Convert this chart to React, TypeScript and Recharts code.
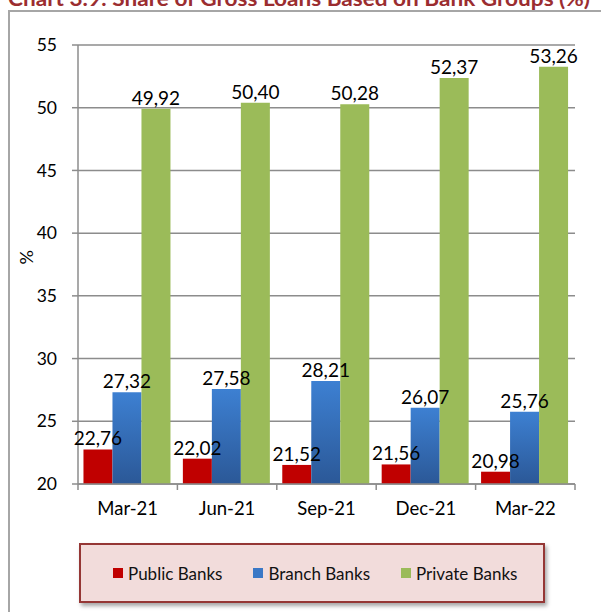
import React from 'react';
import { BarChart, Bar, XAxis, YAxis, CartesianGrid, LabelList, Legend, Label } from 'recharts';

const categories = ['Mar-21', 'Jun-21', 'Sep-21', 'Dec-21', 'Mar-22'];
const publicBanks = [22.76, 22.02, 21.52, 21.56, 20.98];
const branchBanks = [27.32, 27.58, 28.21, 26.07, 25.76];
const privateBanks = [49.92, 50.4, 50.28, 52.37, 53.26];
const yTicks = [20, 25, 30, 35, 40, 45, 50, 55];
const seriesNames = ['Public Banks', 'Branch Banks', 'Private Banks'];

const data = categories.map((c, i) => ({
  name: c,
  publicBanks: publicBanks[i],
  branchBanks: branchBanks[i],
  privateBanks: privateBanks[i],
}));

const FONT = 'Lato, "Open Sans", sans-serif';
const GRID = '#8C8C8C';
const TICK_SIZE = 6;
const TICK_MARGIN = 12;
const COLORS: Record<string, string> = {
  'Public Banks': '#C00000',
  'Branch Banks': '#3B78C6',
  'Private Banks': '#9BBB59',
};

const fmt = (v: any) => Number(v).toFixed(2).replace('.', ',');

const XTick = (props: any) => {
  const { x, y, payload, index, visibleTicksCount } = props;
  const half = payload && payload.offset ? payload.offset : 49.7;
  const axisY = y - TICK_SIZE - TICK_MARGIN;
  return (
    <g>
      <line x1={x - half} x2={x - half} y1={axisY} y2={axisY + TICK_SIZE} stroke={GRID} strokeWidth={1.5} />
      {index === visibleTicksCount - 1 && (
        <line x1={x + half} x2={x + half} y1={axisY} y2={axisY + TICK_SIZE} stroke={GRID} strokeWidth={1.5} />
      )}
      <text x={x} y={y} dy="0.71em" textAnchor="middle" fontSize={18.5} fontFamily={FONT} fill="#000">
        {payload.value}
      </text>
    </g>
  );
};

const renderLegend = (props: any) => {
  const payload = [...(props.payload || [])].sort(
    (a: any, b: any) => seriesNames.indexOf(a.value) - seriesNames.indexOf(b.value)
  );
  return (
    <div
      style={{
        width: 466,
        height: 60,
        boxSizing: 'border-box',
        background: '#F2DCDB',
        border: '2px solid #953735',
        boxShadow: '2px 3px 4px rgba(0,0,0,0.35)',
        display: 'flex',
        flexWrap: 'nowrap',
        alignItems: 'center',
        paddingLeft: 32,
        fontFamily: FONT,
        fontSize: 17,
        color: '#111',
        whiteSpace: 'nowrap',
      }}
    >
      {payload.map((p: any, i: number) => (
        <div key={i} style={{ display: 'flex', flexShrink: 0, alignItems: 'center', marginRight: 31, whiteSpace: 'nowrap' }}>
          <span style={{ display: 'inline-block', width: 10, height: 10, background: COLORS[p.value], marginRight: 5 }} />
          <span>{p.value}</span>
        </div>
      ))}
    </div>
  );
};

export default function App() {
  return (
    <div style={{ position: 'fixed', left: 0, top: 0, width: 601, height: 612, overflow: 'hidden', background: '#fff' }}>
      <div
        style={{
          position: 'absolute',
          left: 8,
          top: 10,
          width: 640,
          height: 640,
          border: '2px solid #A6A6A6',
          boxSizing: 'border-box',
        }}
      />
      <svg style={{ position: 'absolute', left: 0, top: 0 }} width={601} height={20}>
        <text x={8} y={6} textLength={582} lengthAdjust="spacingAndGlyphs" fontFamily={FONT} fontWeight="bold" fontSize={20} fill="#9B2D30">
          Chart 3.9: Share of Gross Loans Based on Bank Groups (%)
        </text>
      </svg>
      <div style={{ position: 'absolute', left: 0, top: 0 }}>
        <BarChart
          width={601}
          height={612}
          data={data}
          margin={{ top: 45, right: 26, bottom: 98, left: 0 }}
          barCategoryGap="5.5%"
          barGap={0}
        >
          <defs>
            <linearGradient id="blueGrad" x1="0" y1="0" x2="0" y2="1">
              <stop offset="0%" stopColor="#3D80D2" />
              <stop offset="100%" stopColor="#2B5897" />
            </linearGradient>
          </defs>
          <CartesianGrid yAxisId="l" vertical={false} stroke={GRID} strokeWidth={1.5} />
          <XAxis
            dataKey="name"
            height={30}
            axisLine={{ stroke: GRID, strokeWidth: 1.5 }}
            tickLine={false}
            tickSize={TICK_SIZE}
            tickMargin={TICK_MARGIN}
            tick={<XTick />}
            interval={0}
          />
          <YAxis
            yAxisId="l"
            width={78}
            domain={[20, 55]}
            ticks={yTicks}
            allowDataOverflow
            axisLine={{ stroke: GRID, strokeWidth: 1.5 }}
            tickLine={{ stroke: GRID, strokeWidth: 1.5 }}
            tickSize={TICK_SIZE}
            tickMargin={15}
            tick={{ fill: '#000', fontSize: 17.5, fontFamily: FONT }}
          >
            <Label value="%" angle={-90} position="insideLeft" offset={27} style={{ fontSize: 18, fontFamily: FONT, fill: '#000' }} />
          </YAxis>
          <YAxis
            yAxisId="r"
            orientation="right"
            width={0}
            tick={false}
            tickLine={false}
            axisLine={{ stroke: GRID, strokeWidth: 1.5 }}
          />
          <Legend
            layout="horizontal"
            verticalAlign="middle"
            align="center"
            content={renderLegend}
            wrapperStyle={{ position: 'absolute', left: 79, top: 543, width: 466, height: 60 }}
          />
          <Bar yAxisId="l" dataKey="publicBanks" name={seriesNames[0]} fill="#C00000" isAnimationActive={false}>
            <LabelList dataKey="publicBanks" position="top" offset={4} formatter={fmt} style={{ fontSize: 19, fontFamily: FONT, fill: '#000' }} />
          </Bar>
          <Bar yAxisId="l" dataKey="branchBanks" name={seriesNames[1]} fill="url(#blueGrad)" isAnimationActive={false}>
            <LabelList dataKey="branchBanks" position="top" offset={4} formatter={fmt} style={{ fontSize: 19, fontFamily: FONT, fill: '#000' }} />
          </Bar>
          <Bar yAxisId="l" dataKey="privateBanks" name={seriesNames[2]} fill="#9BBB59" isAnimationActive={false}>
            <LabelList dataKey="privateBanks" position="top" offset={4} formatter={fmt} style={{ fontSize: 19, fontFamily: FONT, fill: '#000' }} />
          </Bar>
        </BarChart>
      </div>
    </div>
  );
}
